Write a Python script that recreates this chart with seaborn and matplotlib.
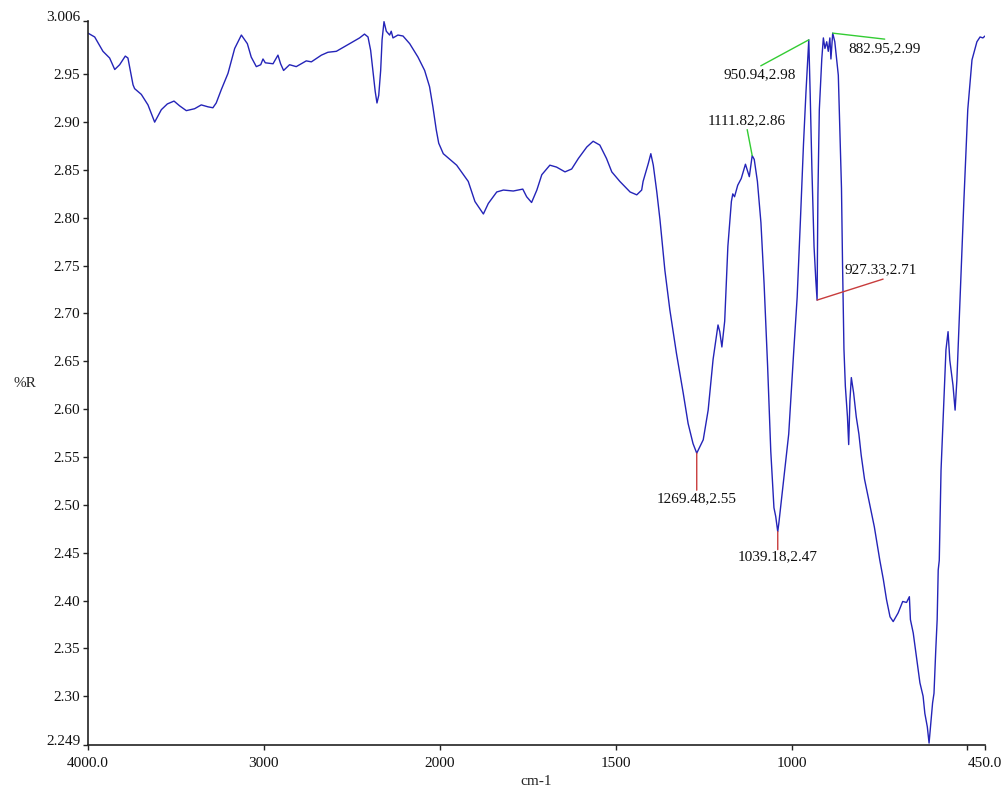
import math
import numpy as np
import pandas as pd
import matplotlib
matplotlib.use("Agg")
import matplotlib.pyplot as plt
import matplotlib.transforms as mtransforms
import seaborn as sns

# Reflectance spectrum: wavenumber (cm-1) and %R
wavenumber = [
    4000, 3962, 3915, 3877, 3848, 3820, 3788, 3773, 3744, 3735, 3697, 3659, 3621,
    3583, 3549, 3511, 3479, 3441, 3394, 3356, 3318, 3290, 3271, 3242, 3204, 3166,
    3128, 3094, 3072, 3043, 3018, 3005, 2992, 2948, 2920, 2905, 2888, 2854, 2816,
    2759, 2730, 2673, 2636, 2588, 2560, 2503, 2456, 2428, 2408, 2393, 2380, 2367,
    2357, 2347, 2336, 2328, 2317, 2304, 2285, 2276, 2266, 2238, 2209, 2171, 2124,
    2086, 2058, 2039, 2020, 2006,
    1990, 1952, 1919, 1900, 1876, 1862, 1838, 1819, 1791, 1764, 1753, 1739, 1724,
    1710, 1687, 1668, 1644, 1625, 1606, 1582, 1564, 1545, 1526, 1511, 1488, 1459,
    1440, 1426, 1422, 1407, 1400, 1393, 1383, 1374, 1360, 1346, 1327, 1308, 1294,
    1280, 1269.48,
    1251, 1237, 1223, 1209, 1204, 1198, 1190, 1181, 1171, 1167, 1162, 1153, 1143,
    1131, 1125, 1120, 1111.82, 1106, 1097, 1087, 1078, 1068, 1059, 1050, 1045,
    1039.18, 1036, 1022, 1008, 994, 984, 975, 966, 959, 950.94, 947, 942, 936, 931,
    927.33, 925, 921, 914, 909.5, 905, 900, 895.5, 891, 888, 882.95, 877, 867, 863,
    858, 855, 851, 847, 841, 837.5, 834, 830, 823.5, 816, 808.5, 802, 792.6, 778.6,
    764.6,
    749, 739, 730, 720, 711, 697, 684, 673, 665, 662, 654, 645, 635, 626, 621, 614,
    609, 605, 599, 595, 590, 586, 583, 580,
    575, 561, 555, 550, 541, 535, 530, 521, 510, 499, 487, 473, 464, 456, 450,
]
reflectance = [
    2.993, 2.989, 2.974, 2.967, 2.955, 2.960, 2.969, 2.967, 2.939, 2.935, 2.929, 2.918, 2.900,
    2.913, 2.919, 2.922, 2.917, 2.912, 2.914, 2.918, 2.916, 2.915, 2.920, 2.934, 2.951, 2.977,
    2.991, 2.982, 2.968, 2.958, 2.960, 2.966, 2.962, 2.961, 2.970, 2.961, 2.954, 2.960, 2.958,
    2.964, 2.963, 2.970, 2.973, 2.974, 2.977, 2.983, 2.988, 2.992, 2.989, 2.975, 2.954, 2.932,
    2.920, 2.928, 2.954, 2.986, 3.005, 2.995, 2.991, 2.995, 2.988, 2.991, 2.990, 2.982, 2.968,
    2.954, 2.937, 2.916, 2.892, 2.878,
    2.867, 2.855, 2.838, 2.817, 2.804, 2.815, 2.827, 2.829, 2.828, 2.830, 2.822, 2.816, 2.829,
    2.845, 2.855, 2.853, 2.848, 2.851, 2.862, 2.874, 2.880, 2.876, 2.862, 2.848, 2.838, 2.827,
    2.824, 2.829, 2.838, 2.857, 2.867, 2.855, 2.827, 2.798, 2.745, 2.704, 2.658, 2.617, 2.585,
    2.564, 2.554,
    2.568, 2.599, 2.652, 2.688, 2.681, 2.665, 2.692, 2.770, 2.817, 2.825, 2.822, 2.834, 2.841,
    2.856, 2.849, 2.843, 2.865, 2.861, 2.838, 2.795, 2.731, 2.645, 2.556, 2.497, 2.488,
    2.472, 2.481, 2.527, 2.574, 2.659, 2.717, 2.795, 2.877, 2.931, 2.986, 2.930, 2.850, 2.770, 2.735,
    2.714, 2.824, 2.913, 2.966, 2.988, 2.977, 2.984, 2.974, 2.988, 2.966, 2.993, 2.984, 2.949, 2.895,
    2.831, 2.752, 2.663, 2.624, 2.592, 2.563, 2.609, 2.633, 2.617, 2.592, 2.574, 2.552, 2.527, 2.502,
    2.477,
    2.442, 2.422, 2.401, 2.383, 2.378, 2.387, 2.399, 2.398, 2.404, 2.380, 2.366, 2.341, 2.314,
    2.300, 2.282, 2.268, 2.251, 2.268, 2.293, 2.303, 2.348, 2.380, 2.432, 2.442,
    2.536, 2.662, 2.681, 2.651, 2.625, 2.599, 2.630, 2.714, 2.818, 2.913, 2.965, 2.984, 2.989,
    2.988, 2.990,
]

# Picked peaks: (wavenumber, colour of the leader line)
peak_x = [950.94, 882.95, 1111.82, 1269.48, 1039.18, 927.33]
peak_colors = ["#33cc33", "#33cc33", "#33cc33", "#c83c3c", "#c83c3c", "#c83c3c"]

x_ticks = [4000, 3000, 2000, 1500, 1000, 500, 450]
x_ticklabels = ["4000.0", "3000", "2000", "1500", "1000", "", "450.0"]
y_ticks = [2.249, 2.30, 2.35, 2.40, 2.45, 2.50, 2.55, 2.60, 2.65, 2.70, 2.75,
           2.80, 2.85, 2.90, 2.95, 3.006]
y_ticklabels = ["2.249", "2.30", "2.35", "2.40", "2.45", "2.50", "2.55", "2.60",
                "2.65", "2.70", "2.75", "2.80", "2.85", "2.90", "2.95", "3.006"]

df = pd.DataFrame({"wavenumber": wavenumber, "R": reflectance})

sns.set_style("white")
plt.rcParams["font.family"] = ["Liberation Serif", "DejaVu Serif"]
plt.rcParams["font.size"] = 11

fig = plt.figure(figsize=(10.08, 7.92), dpi=100)
ax = fig.add_axes([88 / 1008, 1 - 745 / 792, (985 - 88) / 1008, (745 - 20.7) / 792])


# Wavenumber axis is compressed by a factor of two above 2000 cm-1
def fwd(x):
    x = np.asarray(x, dtype=float)
    return np.where(x <= 2000, x, 2000 + (x - 2000) / 2)


def inv(y):
    y = np.asarray(y, dtype=float)
    return np.where(y <= 2000, y, 2000 + 2 * (y - 2000))


ax.set_xscale("function", functions=(fwd, inv))

sns.lineplot(data=df, x="wavenumber", y="R", sort=False, estimator=None,
             color="#2424b8", lw=1.0, ax=ax)

ax.set_xlim(4000, 450)
ax.set_ylim(2.249, 3.006)
ax.set_xticks(x_ticks)
ax.set_xticklabels(x_ticklabels)
ax.xaxis.set_minor_locator(matplotlib.ticker.NullLocator())
ax.set_yticks(y_ticks)
ax.set_yticklabels(y_ticklabels)

for side in ("top", "right"):
    ax.spines[side].set_visible(False)
for side in ("left", "bottom"):
    ax.spines[side].set_color("#222222")
    ax.spines[side].set_linewidth(1.2)

ax.tick_params(axis="both", which="major", direction="out", length=3.5, width=1.0,
               color="#222222", labelsize=11, labelcolor="#111111")
ax.tick_params(axis="x", pad=5)
ax.tick_params(axis="y", pad=2)
ax.tick_params(left=True, bottom=True)

# The end labels of the value axis sit slightly above their ticks
lift = mtransforms.ScaledTranslation(0, 5 / 100, fig.dpi_scale_trans)
ylabels = ax.get_yticklabels()
for lab in (ylabels[0], ylabels[-1]):
    lab.set_transform(lab.get_transform() + lift)

ax.set_xlabel("cm-1", fontsize=11, labelpad=4)
ax.set_ylabel("%R", fontsize=11, rotation=0)
ax.yaxis.set_label_coords(-0.070, 0.49)


def trunc2(v):
    return "%.2f" % (math.floor(v * 100 + 1e-6) / 100)


# Leader line end and label centre, in pixels from the peak (right, down)
leader = [(-48, 26), (52, 6), (-5, -26), (0, 37), (0, 18), (66, -21)]
label_pos = [(-49, 35), (52, 16), (-5, -35), (0, 46), (0, 25), (64, -30)]

pt = 0.72
for px_, col, (lx, ly), (tx, ty) in zip(peak_x, peak_colors, leader, label_pos):
    i = wavenumber.index(px_)
    yv = reflectance[i]
    ax.annotate("", xy=(px_, yv), xytext=(lx * pt, -ly * pt), textcoords="offset points",
                arrowprops=dict(arrowstyle="-", color=col, lw=1.0, shrinkA=0, shrinkB=0))
    ax.annotate(f"{trunc2(px_)},{trunc2(yv)}", xy=(px_, yv), xytext=(tx * pt, -ty * pt),
                textcoords="offset points", ha="center", va="center", fontsize=11,
                color="#111111")

fig.savefig("out.png", dpi=100)
